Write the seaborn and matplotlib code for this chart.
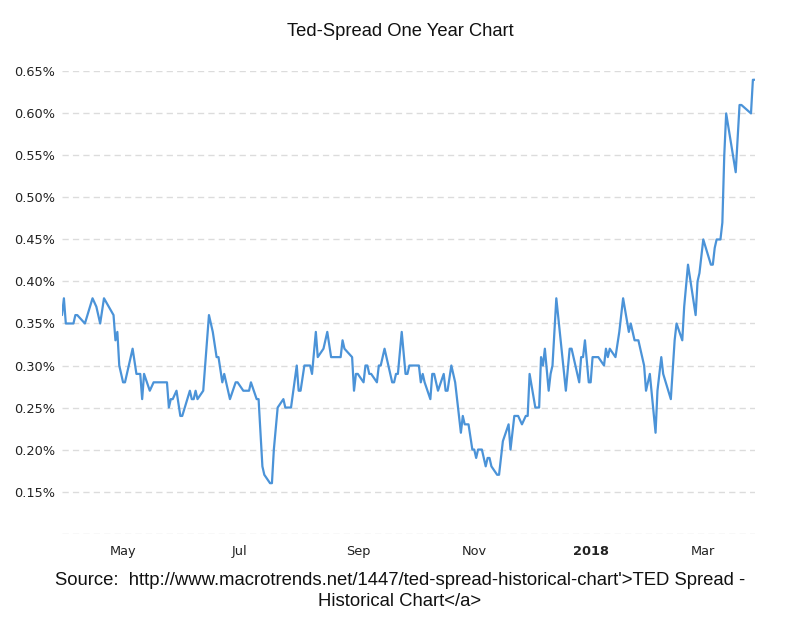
import pandas as pd
import matplotlib.pyplot as plt
import seaborn as sns

# TED spread (percent)
dates = [
    '2017-03-30', '2017-03-31', '2017-04-01', '2017-04-05', '2017-04-06', '2017-04-07',
    '2017-04-11', '2017-04-15', '2017-04-17', '2017-04-19', '2017-04-21', '2017-04-26',
    '2017-04-27', '2017-04-28', '2017-04-29', '2017-05-01', '2017-05-02', '2017-05-06',
    '2017-05-08', '2017-05-10', '2017-05-11', '2017-05-12', '2017-05-15', '2017-05-17',
    '2017-05-24', '2017-05-25', '2017-05-26', '2017-05-27', '2017-05-29', '2017-05-31',
    '2017-06-01', '2017-06-05', '2017-06-06', '2017-06-07', '2017-06-08', '2017-06-09',
    '2017-06-12', '2017-06-13', '2017-06-15', '2017-06-17', '2017-06-19', '2017-06-20',
    '2017-06-22', '2017-06-23', '2017-06-26', '2017-06-29', '2017-06-30', '2017-07-03',
    '2017-07-06', '2017-07-07', '2017-07-10', '2017-07-11', '2017-07-13', '2017-07-14',
    '2017-07-17', '2017-07-18', '2017-07-19', '2017-07-21', '2017-07-24', '2017-07-25',
    '2017-07-28', '2017-07-31', '2017-08-01', '2017-08-02', '2017-08-04', '2017-08-07',
    '2017-08-08', '2017-08-10', '2017-08-11', '2017-08-14', '2017-08-16', '2017-08-18',
    '2017-08-23', '2017-08-24', '2017-08-25', '2017-08-29', '2017-08-30', '2017-08-31',
    '2017-09-01', '2017-09-04', '2017-09-05', '2017-09-06', '2017-09-07', '2017-09-08',
    '2017-09-11', '2017-09-12', '2017-09-13', '2017-09-15', '2017-09-17', '2017-09-19',
    '2017-09-20', '2017-09-21', '2017-09-22', '2017-09-24', '2017-09-26', '2017-09-27',
    '2017-09-28', '2017-10-03', '2017-10-04', '2017-10-05', '2017-10-06', '2017-10-09',
    '2017-10-10', '2017-10-11', '2017-10-13', '2017-10-16', '2017-10-17', '2017-10-18',
    '2017-10-20', '2017-10-22', '2017-10-25', '2017-10-26', '2017-10-27', '2017-10-29',
    '2017-10-31', '2017-11-01', '2017-11-02', '2017-11-03', '2017-11-05', '2017-11-07',
    '2017-11-08', '2017-11-09', '2017-11-10', '2017-11-13', '2017-11-14', '2017-11-15',
    '2017-11-16', '2017-11-19', '2017-11-20', '2017-11-22', '2017-11-24', '2017-11-26',
    '2017-11-28', '2017-11-29', '2017-11-30', '2017-12-03', '2017-12-05', '2017-12-06',
    '2017-12-07', '2017-12-08', '2017-12-10', '2017-12-11', '2017-12-12', '2017-12-14',
    '2017-12-19', '2017-12-21', '2017-12-22', '2017-12-26', '2017-12-27', '2017-12-28',
    '2017-12-29', '2017-12-31', '2018-01-01', '2018-01-02', '2018-01-05', '2018-01-08',
    '2018-01-09', '2018-01-10', '2018-01-11', '2018-01-14', '2018-01-16', '2018-01-18',
    '2018-01-21', '2018-01-22', '2018-01-23', '2018-01-24', '2018-01-26', '2018-01-29',
    '2018-01-30', '2018-02-01', '2018-02-04', '2018-02-05', '2018-02-07', '2018-02-08',
    '2018-02-12', '2018-02-14', '2018-02-15', '2018-02-18', '2018-02-19', '2018-02-21',
    '2018-02-23', '2018-02-25', '2018-02-26', '2018-02-27', '2018-03-01', '2018-03-05',
    '2018-03-06', '2018-03-07', '2018-03-08', '2018-03-10', '2018-03-11', '2018-03-12',
    '2018-03-13', '2018-03-18', '2018-03-20', '2018-03-21', '2018-03-26', '2018-03-27',
    '2018-03-28',
]
spread = [
    0.36, 0.38, 0.35, 0.35, 0.36, 0.36,
    0.35, 0.38, 0.37, 0.35, 0.38, 0.36,
    0.33, 0.34, 0.30, 0.28, 0.28, 0.32,
    0.29, 0.29, 0.26, 0.29, 0.27, 0.28,
    0.28, 0.25, 0.26, 0.26, 0.27, 0.24,
    0.24, 0.27, 0.26, 0.26, 0.27, 0.26,
    0.27, 0.30, 0.36, 0.34, 0.31, 0.31,
    0.28, 0.29, 0.26, 0.28, 0.28, 0.27,
    0.27, 0.28, 0.26, 0.26, 0.18, 0.17,
    0.16, 0.16, 0.20, 0.25, 0.26, 0.25,
    0.25, 0.30, 0.27, 0.27, 0.30, 0.30,
    0.29, 0.34, 0.31, 0.32, 0.34, 0.31,
    0.31, 0.33, 0.32, 0.31, 0.27, 0.29,
    0.29, 0.28, 0.30, 0.30, 0.29, 0.29,
    0.28, 0.30, 0.30, 0.32, 0.30, 0.28,
    0.28, 0.29, 0.29, 0.34, 0.29, 0.29,
    0.30, 0.30, 0.28, 0.29, 0.28, 0.26,
    0.29, 0.29, 0.27, 0.29, 0.27, 0.27,
    0.30, 0.28, 0.22, 0.24, 0.23, 0.23,
    0.20, 0.20, 0.19, 0.20, 0.20, 0.18,
    0.19, 0.19, 0.18, 0.17, 0.17, 0.19,
    0.21, 0.23, 0.20, 0.24, 0.24, 0.23,
    0.24, 0.24, 0.29, 0.25, 0.25, 0.31,
    0.30, 0.32, 0.27, 0.29, 0.30, 0.38,
    0.27, 0.32, 0.32, 0.28, 0.31, 0.31,
    0.33, 0.28, 0.28, 0.31, 0.31, 0.30,
    0.32, 0.31, 0.32, 0.31, 0.34, 0.38,
    0.34, 0.35, 0.34, 0.33, 0.33, 0.30,
    0.27, 0.29, 0.22, 0.27, 0.31, 0.29,
    0.26, 0.33, 0.35, 0.33, 0.37, 0.42,
    0.39, 0.36, 0.40, 0.41, 0.45, 0.42,
    0.42, 0.44, 0.45, 0.45, 0.47, 0.55,
    0.60, 0.53, 0.61, 0.61, 0.60, 0.64,
    0.64,
]

tick_dates = ['2017-05-01', '2017-07-01', '2017-09-01', '2017-11-01', '2018-01-01', '2018-03-01']
tick_labels = ['May', 'Jul', 'Sep', 'Nov', '2018', 'Mar']
y_ticks = [0.10, 0.15, 0.20, 0.25, 0.30, 0.35, 0.40, 0.45, 0.50, 0.55, 0.60, 0.65]

title = 'Ted-Spread One Year Chart'
source = ("Source:  http://www.macrotrends.net/1447/ted-spread-historical-chart'>TED Spread -\n"
          "Historical Chart</a>")

df = pd.DataFrame({'date': pd.to_datetime(dates), 'spread': spread})

sns.set_style('white')
plt.rcParams['font.family'] = ['DejaVu Sans']

fig = plt.figure(figsize=(8, 6.17), dpi=100)
ax = fig.add_axes([0.0775, 0.1345, 0.866, 0.7505])

sns.lineplot(data=df, x='date', y='spread', ax=ax, color='#4b93d8', linewidth=1.6)

ax.set_xlim(df['date'].min(), df['date'].max())
ax.set_ylim(0.0995, 0.6505)
ax.set_yticks(y_ticks)
ax.set_yticklabels(['' if v < 0.12 else f'{v:.2f}%' for v in y_ticks])
ax.set_xticks(pd.to_datetime(tick_dates))
ax.set_xticklabels(tick_labels)
ax.get_xticklabels()[4].set_fontweight('bold')

ax.yaxis.grid(True, color='#dcdcdc', linestyle=(0, (4.5, 3)), linewidth=1)
ax.xaxis.grid(False)
for s in ax.spines.values():
    s.set_visible(False)
ax.tick_params(axis='both', length=0, labelsize=9.3, colors='#222222')
ax.tick_params(axis='y', pad=5)
ax.tick_params(axis='x', pad=8)
ax.set_xlabel('')
ax.set_ylabel('')

fig.text(0.5, 1 - 31 / 617, title, ha='center', va='center',
         family='Liberation Sans', fontsize=13.2, color='#111111')
fig.text(0.5, 1 - 591 / 617, source, ha='center', va='center',
         family='Liberation Sans', fontsize=13.3, linespacing=1.25, color='#111111')

fig.savefig('out.png', dpi=100)
